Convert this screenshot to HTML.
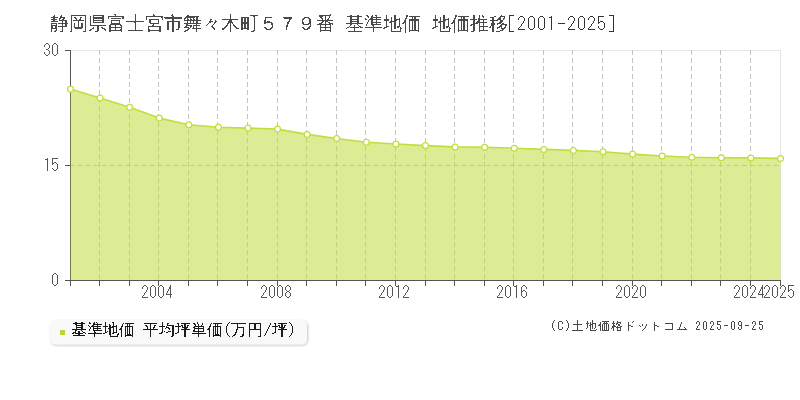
<!DOCTYPE html>
<html><head><meta charset="utf-8"><style>
html,body{margin:0;padding:0;background:#fff;width:800px;height:400px;overflow:hidden}
svg{display:block;will-change:transform}
text{font-family:"Liberation Sans",sans-serif}
</style></head><body>
<svg width="800" height="400" viewBox="0 0 800 400">
<defs><filter id="th" filterUnits="userSpaceOnUse" x="0" y="0" width="800" height="400"><feComponentTransfer><feFuncA type="discrete" tableValues="0 1"/></feComponentTransfer></filter><filter id="th3" filterUnits="userSpaceOnUse" x="0" y="0" width="800" height="400"><feComponentTransfer><feFuncA type="discrete" tableValues="0 0 0 0 0 0 0 0 0 1 1 1 1 1 1 1 1 1 1 1"/></feComponentTransfer></filter></defs>
<rect x="0" y="0" width="800" height="400" fill="#fff"/>
<g font-size="19" fill="#333"><g fill="#4a4a4a" filter="url(#th)"><text x="50" y="30">静岡県富士宮市舞々木町５７９番</text><text x="345" y="30">基準地価</text><text x="431.5" y="30">地価推移</text></g><path d="M520 16h3v1h-3zM519 17h1v1h-1zM523 17h1v1h-1zM518 18h1v1h-1zM524 18h1v1h-1zM518 19h1v1h-1zM524 19h1v1h-1zM524 20h1v1h-1zM523 21h1v1h-1zM523 22h1v1h-1zM522 23h1v1h-1zM521 24h1v1h-1zM521 25h1v1h-1zM520 26h1v1h-1zM519 27h1v1h-1zM518 28h1v1h-1zM518 29h7v1h-7zM530 16h3v1h-3zM529 17h1v1h-1zM533 17h1v1h-1zM528 18h1v1h-1zM534 18h1v1h-1zM528 19h1v1h-1zM534 19h1v1h-1zM528 20h1v1h-1zM534 20h1v1h-1zM528 21h1v1h-1zM534 21h1v1h-1zM528 22h1v1h-1zM534 22h1v1h-1zM528 23h1v1h-1zM534 23h1v1h-1zM528 24h1v1h-1zM534 24h1v1h-1zM528 25h1v1h-1zM534 25h1v1h-1zM528 26h1v1h-1zM534 26h1v1h-1zM528 27h1v1h-1zM534 27h1v1h-1zM529 28h1v1h-1zM533 28h1v1h-1zM530 29h3v1h-3zM540 16h3v1h-3zM539 17h1v1h-1zM543 17h1v1h-1zM538 18h1v1h-1zM544 18h1v1h-1zM538 19h1v1h-1zM544 19h1v1h-1zM538 20h1v1h-1zM544 20h1v1h-1zM538 21h1v1h-1zM544 21h1v1h-1zM538 22h1v1h-1zM544 22h1v1h-1zM538 23h1v1h-1zM544 23h1v1h-1zM538 24h1v1h-1zM544 24h1v1h-1zM538 25h1v1h-1zM544 25h1v1h-1zM538 26h1v1h-1zM544 26h1v1h-1zM538 27h1v1h-1zM544 27h1v1h-1zM539 28h1v1h-1zM543 28h1v1h-1zM540 29h3v1h-3zM551 16h1v1h-1zM549 17h3v1h-3zM551 18h1v1h-1zM551 19h1v1h-1zM551 20h1v1h-1zM551 21h1v1h-1zM551 22h1v1h-1zM551 23h1v1h-1zM551 24h1v1h-1zM551 25h1v1h-1zM551 26h1v1h-1zM551 27h1v1h-1zM551 28h1v1h-1zM551 29h1v1h-1zM558 23h7v1h-7zM570 16h3v1h-3zM569 17h1v1h-1zM573 17h1v1h-1zM568 18h1v1h-1zM574 18h1v1h-1zM568 19h1v1h-1zM574 19h1v1h-1zM574 20h1v1h-1zM573 21h1v1h-1zM573 22h1v1h-1zM572 23h1v1h-1zM571 24h1v1h-1zM571 25h1v1h-1zM570 26h1v1h-1zM569 27h1v1h-1zM568 28h1v1h-1zM568 29h7v1h-7zM580 16h3v1h-3zM579 17h1v1h-1zM583 17h1v1h-1zM578 18h1v1h-1zM584 18h1v1h-1zM578 19h1v1h-1zM584 19h1v1h-1zM578 20h1v1h-1zM584 20h1v1h-1zM578 21h1v1h-1zM584 21h1v1h-1zM578 22h1v1h-1zM584 22h1v1h-1zM578 23h1v1h-1zM584 23h1v1h-1zM578 24h1v1h-1zM584 24h1v1h-1zM578 25h1v1h-1zM584 25h1v1h-1zM578 26h1v1h-1zM584 26h1v1h-1zM578 27h1v1h-1zM584 27h1v1h-1zM579 28h1v1h-1zM583 28h1v1h-1zM580 29h3v1h-3zM590 16h3v1h-3zM589 17h1v1h-1zM593 17h1v1h-1zM588 18h1v1h-1zM594 18h1v1h-1zM588 19h1v1h-1zM594 19h1v1h-1zM594 20h1v1h-1zM593 21h1v1h-1zM593 22h1v1h-1zM592 23h1v1h-1zM591 24h1v1h-1zM591 25h1v1h-1zM590 26h1v1h-1zM589 27h1v1h-1zM588 28h1v1h-1zM588 29h7v1h-7zM598 16h6v1h-6zM598 17h1v1h-1zM598 18h1v1h-1zM598 19h1v1h-1zM598 20h1v1h-1zM598 21h1v1h-1zM600 21h3v1h-3zM598 22h2v1h-2zM603 22h1v1h-1zM598 23h1v1h-1zM604 23h1v1h-1zM604 24h1v1h-1zM604 25h1v1h-1zM598 26h1v1h-1zM604 26h1v1h-1zM598 27h1v1h-1zM604 27h1v1h-1zM599 28h1v1h-1zM603 28h1v1h-1zM600 29h3v1h-3zM509 15h5v1h-4v15h4v1h-5zM609 15h5v17h-5v-1h4v-15h-4z" stroke="none"/></g>
<g stroke="#e6e6e6" stroke-width="1" fill="none">
<line x1="70" y1="50.5" x2="781" y2="50.5"/>
<line x1="780.5" y1="50" x2="780.5" y2="281"/>
</g>
<g stroke="#c4c4c4" stroke-width="1" stroke-dasharray="5,3" fill="none">
<line x1="99.5" y1="50" x2="99.5" y2="280" /><line x1="129.5" y1="50" x2="129.5" y2="280" /><line x1="158.5" y1="50" x2="158.5" y2="280" /><line x1="188.5" y1="50" x2="188.5" y2="280" /><line x1="217.5" y1="50" x2="217.5" y2="280" /><line x1="247.5" y1="50" x2="247.5" y2="280" /><line x1="277.5" y1="50" x2="277.5" y2="280" /><line x1="306.5" y1="50" x2="306.5" y2="280" /><line x1="336.5" y1="50" x2="336.5" y2="280" /><line x1="365.5" y1="50" x2="365.5" y2="280" /><line x1="395.5" y1="50" x2="395.5" y2="280" /><line x1="425.5" y1="50" x2="425.5" y2="280" /><line x1="454.5" y1="50" x2="454.5" y2="280" /><line x1="484.5" y1="50" x2="484.5" y2="280" /><line x1="513.5" y1="50" x2="513.5" y2="280" /><line x1="543.5" y1="50" x2="543.5" y2="280" /><line x1="572.5" y1="50" x2="572.5" y2="280" /><line x1="602.5" y1="50" x2="602.5" y2="280" /><line x1="632.5" y1="50" x2="632.5" y2="280" /><line x1="661.5" y1="50" x2="661.5" y2="280" /><line x1="691.5" y1="50" x2="691.5" y2="280" /><line x1="720.5" y1="50" x2="720.5" y2="280" /><line x1="750.5" y1="50" x2="750.5" y2="280" />
<line x1="70" y1="165.5" x2="780" y2="165.5"/>
</g>
<g stroke="#555" stroke-width="1" fill="none">
<line x1="70.5" y1="50" x2="70.5" y2="281"/>
<line x1="65" y1="280.5" x2="781" y2="280.5"/>
<line x1="65" y1="50.5" x2="70" y2="50.5"/>
<line x1="65" y1="165.5" x2="70" y2="165.5"/>
<line x1="70.5" y1="280" x2="70.5" y2="286" /><line x1="99.5" y1="280" x2="99.5" y2="286" /><line x1="129.5" y1="280" x2="129.5" y2="286" /><line x1="158.5" y1="280" x2="158.5" y2="286" /><line x1="188.5" y1="280" x2="188.5" y2="286" /><line x1="217.5" y1="280" x2="217.5" y2="286" /><line x1="247.5" y1="280" x2="247.5" y2="286" /><line x1="277.5" y1="280" x2="277.5" y2="286" /><line x1="306.5" y1="280" x2="306.5" y2="286" /><line x1="336.5" y1="280" x2="336.5" y2="286" /><line x1="365.5" y1="280" x2="365.5" y2="286" /><line x1="395.5" y1="280" x2="395.5" y2="286" /><line x1="425.5" y1="280" x2="425.5" y2="286" /><line x1="454.5" y1="280" x2="454.5" y2="286" /><line x1="484.5" y1="280" x2="484.5" y2="286" /><line x1="513.5" y1="280" x2="513.5" y2="286" /><line x1="543.5" y1="280" x2="543.5" y2="286" /><line x1="572.5" y1="280" x2="572.5" y2="286" /><line x1="602.5" y1="280" x2="602.5" y2="286" /><line x1="632.5" y1="280" x2="632.5" y2="286" /><line x1="661.5" y1="280" x2="661.5" y2="286" /><line x1="691.5" y1="280" x2="691.5" y2="286" /><line x1="720.5" y1="280" x2="720.5" y2="286" /><line x1="750.5" y1="280" x2="750.5" y2="286" /><line x1="780.5" y1="280" x2="780.5" y2="286" />
</g>
<path d="M70.5,280 L70.50,89.10 L100.08,97.90 L129.67,107.25 L159.25,118.10 L188.83,124.80 L218.42,127.25 L248.00,128.10 L277.58,129.10 L307.17,134.40 L336.75,138.50 L366.33,142.25 L395.92,144.00 L425.50,145.60 L455.08,146.90 L484.67,147.25 L514.25,148.20 L543.83,149.40 L573.42,150.40 L603.00,151.70 L632.58,154.10 L662.17,156.00 L691.75,157.30 L721.33,157.75 L750.92,157.90 L780.50,158.40 L780.5,280 Z" fill="rgb(190,220,60)" fill-opacity="0.55" stroke="none"/>
<path d="M70.50,89.10 L100.08,97.90 L129.67,107.25 L159.25,118.10 L188.83,124.80 L218.42,127.25 L248.00,128.10 L277.58,129.10 L307.17,134.40 L336.75,138.50 L366.33,142.25 L395.92,144.00 L425.50,145.60 L455.08,146.90 L484.67,147.25 L514.25,148.20 L543.83,149.40 L573.42,150.40 L603.00,151.70 L632.58,154.10 L662.17,156.00 L691.75,157.30 L721.33,157.75 L750.92,157.90 L780.50,158.40" fill="none" stroke="#bfe03a" stroke-width="1.6" stroke-linejoin="round"/>
<g fill="#fff" stroke="#bfe03a" stroke-width="1.25"><circle cx="70.50" cy="89.10" r="2.9" /><circle cx="100.08" cy="97.90" r="2.9" /><circle cx="129.67" cy="107.25" r="2.9" /><circle cx="159.25" cy="118.10" r="2.9" /><circle cx="188.83" cy="124.80" r="2.9" /><circle cx="218.42" cy="127.25" r="2.9" /><circle cx="248.00" cy="128.10" r="2.9" /><circle cx="277.58" cy="129.10" r="2.9" /><circle cx="307.17" cy="134.40" r="2.9" /><circle cx="336.75" cy="138.50" r="2.9" /><circle cx="366.33" cy="142.25" r="2.9" /><circle cx="395.92" cy="144.00" r="2.9" /><circle cx="425.50" cy="145.60" r="2.9" /><circle cx="455.08" cy="146.90" r="2.9" /><circle cx="484.67" cy="147.25" r="2.9" /><circle cx="514.25" cy="148.20" r="2.9" /><circle cx="543.83" cy="149.40" r="2.9" /><circle cx="573.42" cy="150.40" r="2.9" /><circle cx="603.00" cy="151.70" r="2.9" /><circle cx="632.58" cy="154.10" r="2.9" /><circle cx="662.17" cy="156.00" r="2.9" /><circle cx="691.75" cy="157.30" r="2.9" /><circle cx="721.33" cy="157.75" r="2.9" /><circle cx="750.92" cy="157.90" r="2.9" /><circle cx="780.50" cy="158.40" r="2.9" /></g>
<g font-size="18" fill="#555">
<path d="M46 43h2v1h-2zM45 44h1v1h-1zM48 44h1v1h-1zM44 45h1v1h-1zM49 45h1v1h-1zM44 46h1v1h-1zM49 46h1v1h-1zM49 47h1v1h-1zM48 48h1v1h-1zM46 49h2v1h-2zM48 50h1v1h-1zM49 51h1v1h-1zM44 52h1v1h-1zM49 52h1v1h-1zM44 53h1v1h-1zM49 53h1v1h-1zM45 54h1v1h-1zM48 54h1v1h-1zM46 55h2v1h-2zM54 43h2v1h-2zM53 44h1v1h-1zM56 44h1v1h-1zM52 45h1v1h-1zM57 45h1v1h-1zM52 46h1v1h-1zM57 46h1v1h-1zM52 47h1v1h-1zM57 47h1v1h-1zM52 48h1v1h-1zM57 48h1v1h-1zM52 49h1v1h-1zM57 49h1v1h-1zM52 50h1v1h-1zM57 50h1v1h-1zM52 51h1v1h-1zM57 51h1v1h-1zM52 52h1v1h-1zM57 52h1v1h-1zM52 53h1v1h-1zM57 53h1v1h-1zM53 54h1v1h-1zM56 54h1v1h-1zM54 55h2v1h-2zM47 158h1v1h-1zM45 159h3v1h-3zM47 160h1v1h-1zM47 161h1v1h-1zM47 162h1v1h-1zM47 163h1v1h-1zM47 164h1v1h-1zM47 165h1v1h-1zM47 166h1v1h-1zM47 167h1v1h-1zM47 168h1v1h-1zM47 169h1v1h-1zM47 170h1v1h-1zM52 158h6v1h-6zM52 159h1v1h-1zM52 160h1v1h-1zM52 161h1v1h-1zM52 162h1v1h-1zM54 162h2v1h-2zM52 163h2v1h-2zM56 163h1v1h-1zM52 164h1v1h-1zM57 164h1v1h-1zM57 165h1v1h-1zM57 166h1v1h-1zM57 167h1v1h-1zM52 168h1v1h-1zM57 168h1v1h-1zM53 169h1v1h-1zM56 169h1v1h-1zM54 170h2v1h-2zM54 273h2v1h-2zM53 274h1v1h-1zM56 274h1v1h-1zM52 275h1v1h-1zM57 275h1v1h-1zM52 276h1v1h-1zM57 276h1v1h-1zM52 277h1v1h-1zM57 277h1v1h-1zM52 278h1v1h-1zM57 278h1v1h-1zM52 279h1v1h-1zM57 279h1v1h-1zM52 280h1v1h-1zM57 280h1v1h-1zM52 281h1v1h-1zM57 281h1v1h-1zM52 282h1v1h-1zM57 282h1v1h-1zM52 283h1v1h-1zM57 283h1v1h-1zM53 284h1v1h-1zM56 284h1v1h-1zM54 285h2v1h-2zM144 285h2v1h-2zM143 286h1v1h-1zM146 286h1v1h-1zM142 287h1v1h-1zM147 287h1v1h-1zM142 288h1v1h-1zM147 288h1v1h-1zM147 289h1v1h-1zM146 290h1v1h-1zM146 291h1v1h-1zM145 292h1v1h-1zM144 293h1v1h-1zM144 294h1v1h-1zM143 295h1v1h-1zM142 296h1v1h-1zM142 297h6v1h-6zM152 285h2v1h-2zM151 286h1v1h-1zM154 286h1v1h-1zM150 287h1v1h-1zM155 287h1v1h-1zM150 288h1v1h-1zM155 288h1v1h-1zM150 289h1v1h-1zM155 289h1v1h-1zM150 290h1v1h-1zM155 290h1v1h-1zM150 291h1v1h-1zM155 291h1v1h-1zM150 292h1v1h-1zM155 292h1v1h-1zM150 293h1v1h-1zM155 293h1v1h-1zM150 294h1v1h-1zM155 294h1v1h-1zM150 295h1v1h-1zM155 295h1v1h-1zM151 296h1v1h-1zM154 296h1v1h-1zM152 297h2v1h-2zM160 285h2v1h-2zM159 286h1v1h-1zM162 286h1v1h-1zM158 287h1v1h-1zM163 287h1v1h-1zM158 288h1v1h-1zM163 288h1v1h-1zM158 289h1v1h-1zM163 289h1v1h-1zM158 290h1v1h-1zM163 290h1v1h-1zM158 291h1v1h-1zM163 291h1v1h-1zM158 292h1v1h-1zM163 292h1v1h-1zM158 293h1v1h-1zM163 293h1v1h-1zM158 294h1v1h-1zM163 294h1v1h-1zM158 295h1v1h-1zM163 295h1v1h-1zM159 296h1v1h-1zM162 296h1v1h-1zM160 297h2v1h-2zM170 285h1v1h-1zM170 286h1v1h-1zM169 287h2v1h-2zM169 288h2v1h-2zM168 289h1v1h-1zM170 289h1v1h-1zM168 290h1v1h-1zM170 290h1v1h-1zM167 291h1v1h-1zM170 291h1v1h-1zM167 292h1v1h-1zM170 292h1v1h-1zM166 293h1v1h-1zM170 293h1v1h-1zM166 294h6v1h-6zM170 295h1v1h-1zM170 296h1v1h-1zM170 297h1v1h-1zM263 285h2v1h-2zM262 286h1v1h-1zM265 286h1v1h-1zM261 287h1v1h-1zM266 287h1v1h-1zM261 288h1v1h-1zM266 288h1v1h-1zM266 289h1v1h-1zM265 290h1v1h-1zM265 291h1v1h-1zM264 292h1v1h-1zM263 293h1v1h-1zM263 294h1v1h-1zM262 295h1v1h-1zM261 296h1v1h-1zM261 297h6v1h-6zM271 285h2v1h-2zM270 286h1v1h-1zM273 286h1v1h-1zM269 287h1v1h-1zM274 287h1v1h-1zM269 288h1v1h-1zM274 288h1v1h-1zM269 289h1v1h-1zM274 289h1v1h-1zM269 290h1v1h-1zM274 290h1v1h-1zM269 291h1v1h-1zM274 291h1v1h-1zM269 292h1v1h-1zM274 292h1v1h-1zM269 293h1v1h-1zM274 293h1v1h-1zM269 294h1v1h-1zM274 294h1v1h-1zM269 295h1v1h-1zM274 295h1v1h-1zM270 296h1v1h-1zM273 296h1v1h-1zM271 297h2v1h-2zM279 285h2v1h-2zM278 286h1v1h-1zM281 286h1v1h-1zM277 287h1v1h-1zM282 287h1v1h-1zM277 288h1v1h-1zM282 288h1v1h-1zM277 289h1v1h-1zM282 289h1v1h-1zM277 290h1v1h-1zM282 290h1v1h-1zM277 291h1v1h-1zM282 291h1v1h-1zM277 292h1v1h-1zM282 292h1v1h-1zM277 293h1v1h-1zM282 293h1v1h-1zM277 294h1v1h-1zM282 294h1v1h-1zM277 295h1v1h-1zM282 295h1v1h-1zM278 296h1v1h-1zM281 296h1v1h-1zM279 297h2v1h-2zM287 285h2v1h-2zM286 286h1v1h-1zM289 286h1v1h-1zM285 287h1v1h-1zM290 287h1v1h-1zM285 288h1v1h-1zM290 288h1v1h-1zM285 289h1v1h-1zM290 289h1v1h-1zM286 290h1v1h-1zM289 290h1v1h-1zM287 291h2v1h-2zM286 292h1v1h-1zM289 292h1v1h-1zM285 293h1v1h-1zM290 293h1v1h-1zM285 294h1v1h-1zM290 294h1v1h-1zM285 295h1v1h-1zM290 295h1v1h-1zM286 296h1v1h-1zM289 296h1v1h-1zM287 297h2v1h-2zM381 285h2v1h-2zM380 286h1v1h-1zM383 286h1v1h-1zM379 287h1v1h-1zM384 287h1v1h-1zM379 288h1v1h-1zM384 288h1v1h-1zM384 289h1v1h-1zM383 290h1v1h-1zM383 291h1v1h-1zM382 292h1v1h-1zM381 293h1v1h-1zM381 294h1v1h-1zM380 295h1v1h-1zM379 296h1v1h-1zM379 297h6v1h-6zM389 285h2v1h-2zM388 286h1v1h-1zM391 286h1v1h-1zM387 287h1v1h-1zM392 287h1v1h-1zM387 288h1v1h-1zM392 288h1v1h-1zM387 289h1v1h-1zM392 289h1v1h-1zM387 290h1v1h-1zM392 290h1v1h-1zM387 291h1v1h-1zM392 291h1v1h-1zM387 292h1v1h-1zM392 292h1v1h-1zM387 293h1v1h-1zM392 293h1v1h-1zM387 294h1v1h-1zM392 294h1v1h-1zM387 295h1v1h-1zM392 295h1v1h-1zM388 296h1v1h-1zM391 296h1v1h-1zM389 297h2v1h-2zM398 285h1v1h-1zM396 286h3v1h-3zM398 287h1v1h-1zM398 288h1v1h-1zM398 289h1v1h-1zM398 290h1v1h-1zM398 291h1v1h-1zM398 292h1v1h-1zM398 293h1v1h-1zM398 294h1v1h-1zM398 295h1v1h-1zM398 296h1v1h-1zM398 297h1v1h-1zM405 285h2v1h-2zM404 286h1v1h-1zM407 286h1v1h-1zM403 287h1v1h-1zM408 287h1v1h-1zM403 288h1v1h-1zM408 288h1v1h-1zM408 289h1v1h-1zM407 290h1v1h-1zM407 291h1v1h-1zM406 292h1v1h-1zM405 293h1v1h-1zM405 294h1v1h-1zM404 295h1v1h-1zM403 296h1v1h-1zM403 297h6v1h-6zM499 285h2v1h-2zM498 286h1v1h-1zM501 286h1v1h-1zM497 287h1v1h-1zM502 287h1v1h-1zM497 288h1v1h-1zM502 288h1v1h-1zM502 289h1v1h-1zM501 290h1v1h-1zM501 291h1v1h-1zM500 292h1v1h-1zM499 293h1v1h-1zM499 294h1v1h-1zM498 295h1v1h-1zM497 296h1v1h-1zM497 297h6v1h-6zM507 285h2v1h-2zM506 286h1v1h-1zM509 286h1v1h-1zM505 287h1v1h-1zM510 287h1v1h-1zM505 288h1v1h-1zM510 288h1v1h-1zM505 289h1v1h-1zM510 289h1v1h-1zM505 290h1v1h-1zM510 290h1v1h-1zM505 291h1v1h-1zM510 291h1v1h-1zM505 292h1v1h-1zM510 292h1v1h-1zM505 293h1v1h-1zM510 293h1v1h-1zM505 294h1v1h-1zM510 294h1v1h-1zM505 295h1v1h-1zM510 295h1v1h-1zM506 296h1v1h-1zM509 296h1v1h-1zM507 297h2v1h-2zM516 285h1v1h-1zM514 286h3v1h-3zM516 287h1v1h-1zM516 288h1v1h-1zM516 289h1v1h-1zM516 290h1v1h-1zM516 291h1v1h-1zM516 292h1v1h-1zM516 293h1v1h-1zM516 294h1v1h-1zM516 295h1v1h-1zM516 296h1v1h-1zM516 297h1v1h-1zM523 285h2v1h-2zM522 286h1v1h-1zM525 286h1v1h-1zM521 287h1v1h-1zM526 287h1v1h-1zM521 288h1v1h-1zM526 288h1v1h-1zM521 289h1v1h-1zM521 290h1v1h-1zM523 290h2v1h-2zM521 291h2v1h-2zM525 291h1v1h-1zM521 292h1v1h-1zM526 292h1v1h-1zM521 293h1v1h-1zM526 293h1v1h-1zM521 294h1v1h-1zM526 294h1v1h-1zM521 295h1v1h-1zM526 295h1v1h-1zM522 296h1v1h-1zM525 296h1v1h-1zM523 297h2v1h-2zM618 285h2v1h-2zM617 286h1v1h-1zM620 286h1v1h-1zM616 287h1v1h-1zM621 287h1v1h-1zM616 288h1v1h-1zM621 288h1v1h-1zM621 289h1v1h-1zM620 290h1v1h-1zM620 291h1v1h-1zM619 292h1v1h-1zM618 293h1v1h-1zM618 294h1v1h-1zM617 295h1v1h-1zM616 296h1v1h-1zM616 297h6v1h-6zM626 285h2v1h-2zM625 286h1v1h-1zM628 286h1v1h-1zM624 287h1v1h-1zM629 287h1v1h-1zM624 288h1v1h-1zM629 288h1v1h-1zM624 289h1v1h-1zM629 289h1v1h-1zM624 290h1v1h-1zM629 290h1v1h-1zM624 291h1v1h-1zM629 291h1v1h-1zM624 292h1v1h-1zM629 292h1v1h-1zM624 293h1v1h-1zM629 293h1v1h-1zM624 294h1v1h-1zM629 294h1v1h-1zM624 295h1v1h-1zM629 295h1v1h-1zM625 296h1v1h-1zM628 296h1v1h-1zM626 297h2v1h-2zM634 285h2v1h-2zM633 286h1v1h-1zM636 286h1v1h-1zM632 287h1v1h-1zM637 287h1v1h-1zM632 288h1v1h-1zM637 288h1v1h-1zM637 289h1v1h-1zM636 290h1v1h-1zM636 291h1v1h-1zM635 292h1v1h-1zM634 293h1v1h-1zM634 294h1v1h-1zM633 295h1v1h-1zM632 296h1v1h-1zM632 297h6v1h-6zM642 285h2v1h-2zM641 286h1v1h-1zM644 286h1v1h-1zM640 287h1v1h-1zM645 287h1v1h-1zM640 288h1v1h-1zM645 288h1v1h-1zM640 289h1v1h-1zM645 289h1v1h-1zM640 290h1v1h-1zM645 290h1v1h-1zM640 291h1v1h-1zM645 291h1v1h-1zM640 292h1v1h-1zM645 292h1v1h-1zM640 293h1v1h-1zM645 293h1v1h-1zM640 294h1v1h-1zM645 294h1v1h-1zM640 295h1v1h-1zM645 295h1v1h-1zM641 296h1v1h-1zM644 296h1v1h-1zM642 297h2v1h-2zM736 285h2v1h-2zM735 286h1v1h-1zM738 286h1v1h-1zM734 287h1v1h-1zM739 287h1v1h-1zM734 288h1v1h-1zM739 288h1v1h-1zM739 289h1v1h-1zM738 290h1v1h-1zM738 291h1v1h-1zM737 292h1v1h-1zM736 293h1v1h-1zM736 294h1v1h-1zM735 295h1v1h-1zM734 296h1v1h-1zM734 297h6v1h-6zM744 285h2v1h-2zM743 286h1v1h-1zM746 286h1v1h-1zM742 287h1v1h-1zM747 287h1v1h-1zM742 288h1v1h-1zM747 288h1v1h-1zM742 289h1v1h-1zM747 289h1v1h-1zM742 290h1v1h-1zM747 290h1v1h-1zM742 291h1v1h-1zM747 291h1v1h-1zM742 292h1v1h-1zM747 292h1v1h-1zM742 293h1v1h-1zM747 293h1v1h-1zM742 294h1v1h-1zM747 294h1v1h-1zM742 295h1v1h-1zM747 295h1v1h-1zM743 296h1v1h-1zM746 296h1v1h-1zM744 297h2v1h-2zM752 285h2v1h-2zM751 286h1v1h-1zM754 286h1v1h-1zM750 287h1v1h-1zM755 287h1v1h-1zM750 288h1v1h-1zM755 288h1v1h-1zM755 289h1v1h-1zM754 290h1v1h-1zM754 291h1v1h-1zM753 292h1v1h-1zM752 293h1v1h-1zM752 294h1v1h-1zM751 295h1v1h-1zM750 296h1v1h-1zM750 297h6v1h-6zM762 285h1v1h-1zM762 286h1v1h-1zM761 287h2v1h-2zM761 288h2v1h-2zM760 289h1v1h-1zM762 289h1v1h-1zM760 290h1v1h-1zM762 290h1v1h-1zM759 291h1v1h-1zM762 291h1v1h-1zM759 292h1v1h-1zM762 292h1v1h-1zM758 293h1v1h-1zM762 293h1v1h-1zM758 294h6v1h-6zM762 295h1v1h-1zM762 296h1v1h-1zM762 297h1v1h-1zM766 285h2v1h-2zM765 286h1v1h-1zM768 286h1v1h-1zM764 287h1v1h-1zM769 287h1v1h-1zM764 288h1v1h-1zM769 288h1v1h-1zM769 289h1v1h-1zM768 290h1v1h-1zM768 291h1v1h-1zM767 292h1v1h-1zM766 293h1v1h-1zM766 294h1v1h-1zM765 295h1v1h-1zM764 296h1v1h-1zM764 297h6v1h-6zM774 285h2v1h-2zM773 286h1v1h-1zM776 286h1v1h-1zM772 287h1v1h-1zM777 287h1v1h-1zM772 288h1v1h-1zM777 288h1v1h-1zM772 289h1v1h-1zM777 289h1v1h-1zM772 290h1v1h-1zM777 290h1v1h-1zM772 291h1v1h-1zM777 291h1v1h-1zM772 292h1v1h-1zM777 292h1v1h-1zM772 293h1v1h-1zM777 293h1v1h-1zM772 294h1v1h-1zM777 294h1v1h-1zM772 295h1v1h-1zM777 295h1v1h-1zM773 296h1v1h-1zM776 296h1v1h-1zM774 297h2v1h-2zM782 285h2v1h-2zM781 286h1v1h-1zM784 286h1v1h-1zM780 287h1v1h-1zM785 287h1v1h-1zM780 288h1v1h-1zM785 288h1v1h-1zM785 289h1v1h-1zM784 290h1v1h-1zM784 291h1v1h-1zM783 292h1v1h-1zM782 293h1v1h-1zM782 294h1v1h-1zM781 295h1v1h-1zM780 296h1v1h-1zM780 297h6v1h-6zM788 285h6v1h-6zM788 286h1v1h-1zM788 287h1v1h-1zM788 288h1v1h-1zM788 289h1v1h-1zM790 289h2v1h-2zM788 290h2v1h-2zM792 290h1v1h-1zM788 291h1v1h-1zM793 291h1v1h-1zM793 292h1v1h-1zM793 293h1v1h-1zM793 294h1v1h-1zM788 295h1v1h-1zM793 295h1v1h-1zM789 296h1v1h-1zM792 296h1v1h-1zM790 297h2v1h-2z" stroke="none"/>
</g>
<g fill="none" stroke="#000" transform="translate(1,1)">
<rect x="50.5" y="320.5" width="256" height="23.5" rx="5" ry="5" stroke-width="5" stroke-opacity="0.025"/>
<rect x="50.5" y="320.5" width="256" height="23.5" rx="5" ry="5" stroke-width="3" stroke-opacity="0.05"/>
<rect x="50.5" y="320.5" width="256" height="23.5" rx="5" ry="5" stroke-width="1" stroke-opacity="0.08"/>
</g>
<rect x="50" y="320" width="257" height="24.5" rx="5" ry="5" fill="#f9f9f9"/>
<rect x="60" y="330" width="5" height="5" fill="#b5d935"/>
<g font-size="16" fill="#111">
<g fill="#1a1a1a" filter="url(#th3)"><text x="71" y="335">基準地価</text>
<text x="143" y="335">平均坪単価</text>
<path fill="#1a1a1a" d="M229 322h1v1h-1zM228 323h1v1h-1zM227 324h1v2h-1zM226 326h1v7h-1zM227 333h1v2h-1zM228 335h1v1h-1zM229 336h1v1h-1z"/>
<text x="231" y="335">万円</text>
<path fill="#1a1a1a" d="M270 323h1v2h-1zM269 325h1v2h-1zM268 327h1v2h-1zM267 329h1v2h-1zM266 331h1v2h-1zM265 333h1v2h-1zM264 335h1v1h-1z"/>
<text x="271.5" y="335">坪</text></g>
<path fill="#1a1a1a" d="M289 322h1v1h-1zM290 323h1v1h-1zM291 324h1v2h-1zM292 326h1v7h-1zM291 333h1v2h-1zM290 335h1v1h-1zM289 336h1v1h-1z"/>
</g>
<g font-size="13" fill="#4a4a4a">
<path d="M554 320h1v1h-1zM553 321h1v2h-1zM552 323h1v5h-1zM553 328h1v2h-1zM554 330h1v1h-1zM559 321h3v1h-3zM558 322h1v7h-1zM562 322h1v2h-1zM562 327h1v2h-1zM559 329h3v1h-3zM566 320h1v1h-1zM567 321h1v2h-1zM568 323h1v5h-1zM567 328h1v2h-1zM566 330h1v1h-1z"/>
<text x="571.5" y="329.5" fill="#4a4a4a" filter="url(#th)" font-size="12" textLength="116" lengthAdjust="spacing">土地価格ドットコム</text>
<path d="M697 321h2v1h-2zM696 322h1v1h-1zM699 322h1v1h-1zM696 323h1v1h-1zM699 323h1v1h-1zM699 324h1v1h-1zM698 325h1v1h-1zM697 326h1v1h-1zM697 327h1v1h-1zM696 328h1v1h-1zM696 329h4v1h-4zM704 321h2v1h-2zM703 322h1v1h-1zM706 322h1v1h-1zM703 323h1v1h-1zM706 323h1v1h-1zM703 324h1v1h-1zM706 324h1v1h-1zM703 325h1v1h-1zM706 325h1v1h-1zM703 326h1v1h-1zM706 326h1v1h-1zM703 327h1v1h-1zM706 327h1v1h-1zM703 328h1v1h-1zM706 328h1v1h-1zM704 329h2v1h-2zM711 321h2v1h-2zM710 322h1v1h-1zM713 322h1v1h-1zM710 323h1v1h-1zM713 323h1v1h-1zM713 324h1v1h-1zM712 325h1v1h-1zM711 326h1v1h-1zM711 327h1v1h-1zM710 328h1v1h-1zM710 329h4v1h-4zM717 321h4v1h-4zM717 322h1v1h-1zM717 323h1v1h-1zM717 324h3v1h-3zM720 325h1v1h-1zM720 326h1v1h-1zM717 327h1v1h-1zM720 327h1v1h-1zM717 328h1v1h-1zM720 328h1v1h-1zM718 329h2v1h-2zM724 325h4v1h-4zM732 321h2v1h-2zM731 322h1v1h-1zM734 322h1v1h-1zM731 323h1v1h-1zM734 323h1v1h-1zM731 324h1v1h-1zM734 324h1v1h-1zM731 325h1v1h-1zM734 325h1v1h-1zM731 326h1v1h-1zM734 326h1v1h-1zM731 327h1v1h-1zM734 327h1v1h-1zM731 328h1v1h-1zM734 328h1v1h-1zM732 329h2v1h-2zM739 321h2v1h-2zM738 322h1v1h-1zM741 322h1v1h-1zM738 323h1v1h-1zM741 323h1v1h-1zM738 324h1v1h-1zM741 324h1v1h-1zM739 325h3v1h-3zM741 326h1v1h-1zM738 327h1v1h-1zM741 327h1v1h-1zM738 328h1v1h-1zM741 328h1v1h-1zM739 329h2v1h-2zM745 325h4v1h-4zM753 321h2v1h-2zM752 322h1v1h-1zM755 322h1v1h-1zM752 323h1v1h-1zM755 323h1v1h-1zM755 324h1v1h-1zM754 325h1v1h-1zM753 326h1v1h-1zM753 327h1v1h-1zM752 328h1v1h-1zM752 329h4v1h-4zM759 321h4v1h-4zM759 322h1v1h-1zM759 323h1v1h-1zM759 324h3v1h-3zM762 325h1v1h-1zM762 326h1v1h-1zM759 327h1v1h-1zM762 327h1v1h-1zM759 328h1v1h-1zM762 328h1v1h-1zM760 329h2v1h-2z" stroke="none"/>
</g>
</svg>
</body></html>
